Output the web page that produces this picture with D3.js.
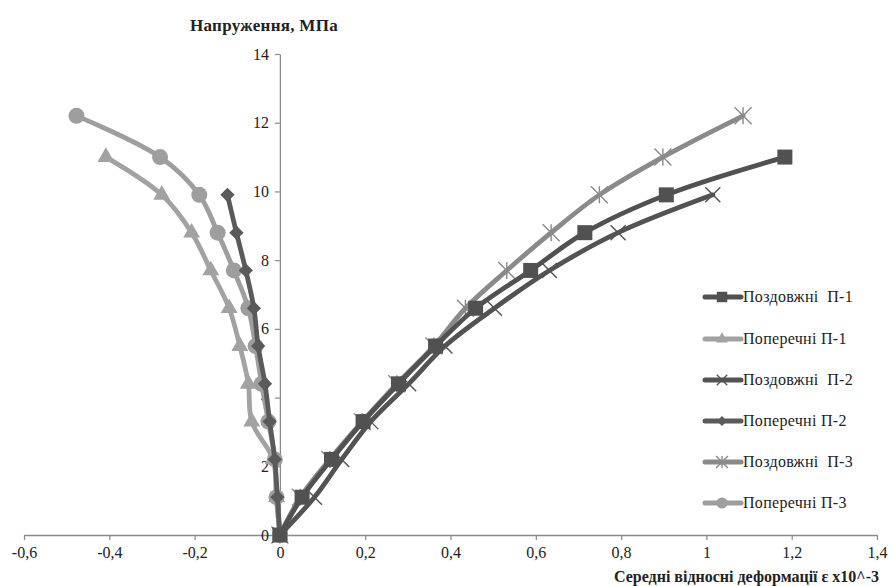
<!DOCTYPE html>
<html>
<head>
<meta charset="utf-8">
<script src="https://cdn.jsdelivr.net/npm/d3@7"></script>
<style>
  html, body { margin: 0; padding: 0; background: #fff; }
  svg text { font-family: 'Liberation Serif', 'DejaVu Serif', serif !important; }
</style>
</head>
<body>
<svg id="chart" width="891" height="586"></svg>
<script>
// ---- data ----
const seriesNames = ["Поздовжні  П-1", "Поперечні П-1", "Поздовжні  П-2", "Поперечні П-2", "Поздовжні  П-3", "Поперечні П-3"];
const stress11 = [0, 1.1, 2.2, 3.3, 4.4, 5.5, 6.6, 7.7, 8.8, 9.9, 11.0];
const stress10 = [0, 1.1, 2.2, 3.3, 4.4, 5.5, 6.6, 7.7, 8.8, 9.9];
const stress12 = [0, 1.1, 2.2, 3.3, 4.4, 5.5, 6.6, 7.7, 8.8, 9.9, 11.0, 12.2];

const strainLongP1  = [0, 0.052, 0.121, 0.195, 0.278, 0.365, 0.459, 0.588, 0.715, 0.906, 1.184];
const strainTransP1 = [0, -0.008, -0.016, -0.066, -0.074, -0.094, -0.119, -0.162, -0.207, -0.277, -0.408];
const strainLongP2  = [0, 0.081, 0.145, 0.213, 0.302, 0.387, 0.503, 0.632, 0.793, 1.015];
const strainTransP2 = [0, -0.006, -0.012, -0.024, -0.035, -0.051, -0.061, -0.080, -0.102, -0.123];
const strainLongP3  = [0, 0.048, 0.117, 0.193, 0.274, 0.361, 0.435, 0.532, 0.636, 0.749, 0.898, 1.086];
const strainTransP3 = [0, -0.008, -0.012, -0.027, -0.043, -0.057, -0.074, -0.108, -0.146, -0.189, -0.281, -0.477];

const xTicks = [-0.6, -0.4, -0.2, 0, 0.2, 0.4, 0.6, 0.8, 1, 1.2, 1.4];
const yTicks = [0, 2, 4, 6, 8, 10, 12, 14];

const yTitle = "Напруження, МПа";
const xTitle = "Середні відносні деформації ε x10^-3";

// ---- build series ----
const zip = (xs, ys) => xs.map((x, i) => ({x: x, y: ys[i]}));
const series = [
  {name: seriesNames[0], pts: zip(strainLongP1, stress11),  color: "#515151", marker: "square"},
  {name: seriesNames[1], pts: zip(strainTransP1, stress11), color: "#a2a2a2", marker: "triangle"},
  {name: seriesNames[2], pts: zip(strainLongP2, stress10),  color: "#535353", marker: "cross"},
  {name: seriesNames[3], pts: zip(strainTransP2, stress10), color: "#5a5a5a", marker: "diamond"},
  {name: seriesNames[4], pts: zip(strainLongP3, stress12),  color: "#8a8a8a", marker: "star"},
  {name: seriesNames[5], pts: zip(strainTransP3, stress12), color: "#9e9e9e", marker: "circle"}
];

const FONT = "'Liberation Serif', 'DejaVu Serif', serif";

// ---- scales ----
const svg = d3.select("#chart");
const x = d3.scaleLinear().domain([-0.6, 1.4]).range([24, 877]);
const y = d3.scaleLinear().domain([0, 14]).range([535, 54]);
const fmt = v => (v === 0 ? "0" : String(+v.toFixed(1)).replace(".", ","));

// ---- axes ----
const xAxis = d3.axisBottom(x).tickValues(xTicks).tickSize(5).tickSizeOuter(0).tickFormat(fmt);
const yAxis = d3.axisLeft(y).tickValues(yTicks).tickSize(5).tickSizeOuter(0).tickFormat(fmt);

const gx = svg.append("g").attr("transform", `translate(0,${y(0)})`).call(xAxis)
  .attr("font-family", FONT).attr("font-size", 16);
gx.selectAll("text").attr("fill", "#222").attr("y", 9).attr("dy", "0.85em");
const gy = svg.append("g").attr("transform", `translate(${x(0)},0)`).call(yAxis)
  .attr("font-family", FONT).attr("font-size", 16);
gy.selectAll("text").attr("fill", "#222").attr("x", -11);
svg.selectAll(".domain").attr("stroke", "#8a8a8a").attr("stroke-width", 1.3);
svg.selectAll(".tick line").attr("stroke", "#8a8a8a").attr("stroke-width", 1.2);

// titles
svg.append("text").attr("x", 264).attr("y", 31).attr("text-anchor", "middle")
  .attr("font-family", FONT).attr("font-size", 17).attr("font-weight", "bold")
  .attr("fill", "#222").attr("letter-spacing", 0.3).text(yTitle);
svg.append("text").attr("x", 879).attr("y", 582).attr("text-anchor", "end")
  .attr("font-family", FONT).attr("font-size", 16).attr("font-weight", "bold")
  .attr("fill", "#222").text(xTitle);

// ---- markers ----
function drawMarker(g, type, color, s) {
  if (type === "square") {
    g.append("rect").attr("x", -s/2).attr("y", -s/2).attr("width", s).attr("height", s).attr("fill", color);
  } else if (type === "triangle") {
    g.append("path").attr("d", d3.symbol(d3.symbolTriangle, s*s*0.55)()).attr("fill", color);
  } else if (type === "diamond") {
    const h = s*0.55;
    g.append("path").attr("d", `M0,${-h}L${h},0L0,${h}L${-h},0Z`).attr("fill", color);
  } else if (type === "circle") {
    g.append("circle").attr("r", s/2).attr("fill", color);
  } else if (type === "cross") {
    const h = s/2;
    g.append("path").attr("d", `M${-h},${-h}L${h},${h}M${-h},${h}L${h},${-h}`)
      .attr("stroke", color).attr("stroke-width", 1.4).attr("fill", "none");
  } else if (type === "star") {
    const h = s/2;
    g.append("path").attr("d", `M${-h},${-h}L${h},${h}M${-h},${h}L${h},${-h}M0,${-h}L0,${h}`)
      .attr("stroke", color).attr("stroke-width", 1.4).attr("fill", "none");
  }
}
const markerSize = {square: 15, triangle: 15, diamond: 13, circle: 16, cross: 15, star: 17};

// ---- lines ----
const line = d3.line().x(d => x(d.x)).y(d => y(d.y)).curve(d3.curveCatmullRom.alpha(0.5));
const plot = svg.append("g");
const order = [4, 5, 1, 3, 2, 0];
order.forEach(i => {
  const s = series[i];
  plot.append("path").datum(s.pts).attr("d", line)
    .attr("fill", "none").attr("stroke", s.color).attr("stroke-width", 4.8)
    .attr("stroke-linejoin", "round").attr("stroke-linecap", "round");
  s.pts.forEach(p => {
    const g = plot.append("g").attr("transform", `translate(${x(p.x)},${y(p.y)})`);
    drawMarker(g, s.marker, s.color, markerSize[s.marker]);
  });
});

// ---- legend ----
const legendY = [297, 339, 380, 421, 462, 503];
const legend = svg.append("g");
series.forEach((s, i) => {
  const g = legend.append("g").attr("transform", `translate(0,${legendY[i]})`);
  g.append("line").attr("x1", 705).attr("x2", 741).attr("y1", 0).attr("y2", 0)
    .attr("stroke", s.color).attr("stroke-width", 5).attr("stroke-linecap", "round");
  const m = g.append("g").attr("transform", "translate(722,0)");
  drawMarker(m, s.marker, s.color, markerSize[s.marker] * 0.7);
  g.append("text").attr("x", 743).attr("y", 5).attr("font-family", FONT)
    .attr("font-size", 16).attr("fill", "#222").attr("letter-spacing", 0.3)
    .style("white-space", "pre").text(s.name);
});
</script>
</body>
</html>
